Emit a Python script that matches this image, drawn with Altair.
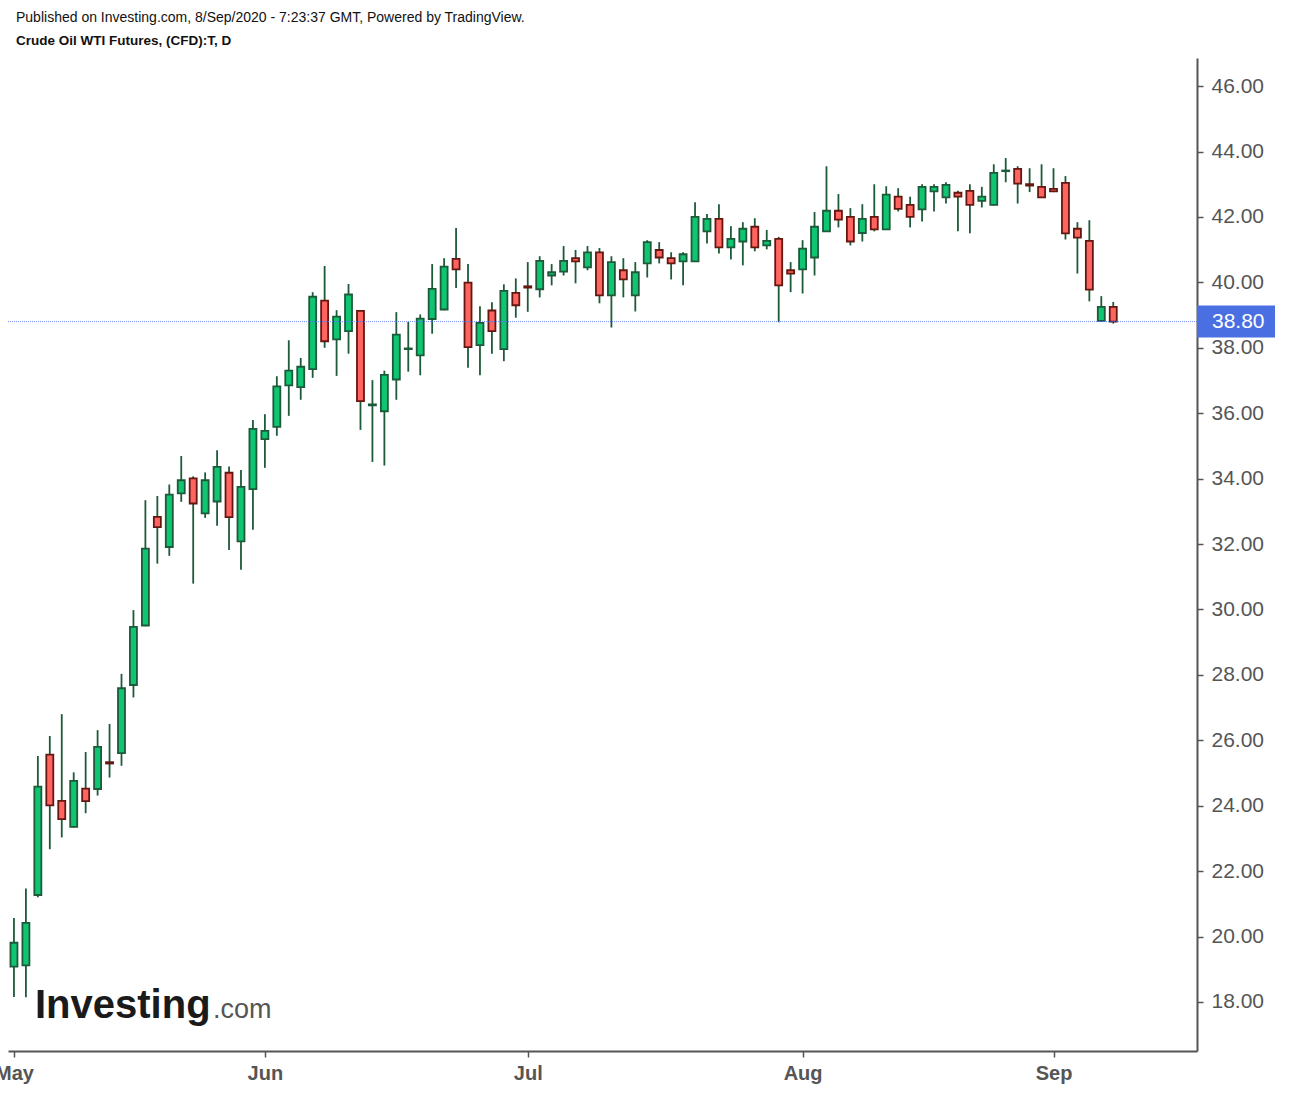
import altair as alt
import pandas as pd

# Daily candles (weekdays), 1 May 2020 .. 8 Sep 2020
opens = [19.08, 19.12, 21.27, 25.56, 24.15, 23.35, 24.52, 24.51, 25.33, 25.61,
         27.69, 29.51, 32.83, 31.91, 33.55, 34.01, 32.94, 33.30, 34.18, 32.08,
         33.68, 35.21, 35.58, 36.85, 36.80, 37.35, 39.44, 38.26, 38.51, 39.13,
         36.24, 36.06, 37.03, 37.96, 37.77, 38.88, 39.17, 40.72, 39.99, 38.08,
         39.14, 37.96, 39.68, 39.88, 39.79, 40.21, 40.33, 40.74, 40.46, 40.92,
         39.60, 40.37, 39.60, 40.58, 40.99, 40.74, 40.64, 40.64, 41.56, 41.94,
         41.07, 41.25, 41.70, 41.13, 41.33, 40.37, 40.40, 40.76, 41.56, 42.19,
         42.00, 41.51, 42.00, 41.62, 42.62, 42.37, 42.23, 42.78, 42.60, 42.74,
         42.80, 42.49, 42.37, 43.40, 43.47, 43.00, 42.92, 42.86, 43.04, 41.64,
         41.27, 38.82, 39.25]
highs = [20.57, 21.47, 25.52, 26.13, 26.80, 25.02, 25.64, 26.31, 26.50, 28.03,
         29.98, 33.34, 33.47, 33.82, 34.69, 34.07, 34.19, 34.87, 34.37, 34.26,
         35.79, 35.97, 37.13, 38.23, 37.69, 39.70, 40.50, 39.15, 39.95, 39.15,
         37.01, 37.30, 39.09, 38.79, 39.02, 40.56, 40.74, 41.66, 40.56, 39.27,
         39.39, 39.94, 40.12, 40.62, 40.80, 40.56, 41.11, 40.99, 41.11, 41.05,
         40.80, 40.74, 40.62, 41.29, 41.23, 40.92, 40.92, 42.45, 42.09, 42.39,
         41.72, 41.84, 41.96, 41.60, 41.39, 40.62, 41.29, 42.15, 43.55, 42.70,
         42.27, 42.39, 43.00, 42.94, 42.88, 42.62, 43.00, 43.00, 43.06, 42.80,
         43.00, 42.92, 43.61, 43.80, 43.55, 43.49, 43.61, 43.49, 43.25, 41.84,
         41.90, 39.58, 39.40]
lows = [18.15, 18.14, 21.20, 22.67, 23.03, 23.33, 23.77, 24.31, 24.86, 25.22,
        27.31, 29.49, 31.40, 31.64, 33.29, 30.79, 32.80, 32.56, 31.82, 31.21,
        32.44, 34.33, 35.31, 35.92, 36.41, 37.08, 38.00, 37.14, 37.82, 35.49,
        34.51, 34.40, 36.41, 37.27, 37.16, 38.43, 39.15, 39.83, 37.39, 37.16,
        37.82, 37.59, 38.92, 39.10, 39.54, 39.91, 40.21, 39.97, 40.37, 39.36,
        38.62, 39.54, 39.11, 40.15, 40.58, 40.09, 39.91, 40.62, 41.19, 40.88,
        40.70, 40.52, 40.95, 41.01, 38.78, 39.70, 39.66, 40.21, 41.54, 41.68,
        41.13, 41.25, 41.56, 41.60, 42.17, 41.68, 41.86, 42.17, 42.41, 41.56,
        41.50, 42.29, 42.35, 43.06, 42.41, 42.76, 42.58, 42.76, 41.31, 40.27,
        39.42, 38.80, 38.74]
closes = [19.81, 20.42, 24.58, 24.01, 23.59, 24.76, 24.14, 25.80, 25.29, 27.59,
          29.47, 31.86, 32.52, 33.51, 33.95, 33.24, 33.95, 34.36, 32.82, 33.75,
          35.52, 35.46, 36.82, 37.30, 37.42, 39.56, 38.20, 38.95, 39.63, 36.37,
          36.27, 37.17, 38.40, 37.98, 38.89, 39.80, 40.48, 40.40, 38.02, 38.76,
          38.51, 39.74, 39.30, 39.84, 40.66, 40.31, 40.66, 40.64, 40.92, 39.60,
          40.62, 40.09, 40.31, 41.23, 40.76, 40.58, 40.86, 42.00, 41.94, 41.07,
          41.33, 41.64, 41.07, 41.27, 39.91, 40.27, 41.03, 41.70, 42.19, 41.92,
          41.25, 41.94, 41.62, 42.68, 42.25, 42.00, 42.92, 42.92, 42.98, 42.62,
          42.37, 42.62, 43.35, 43.42, 43.02, 42.96, 42.60, 42.78, 41.50, 41.37,
          39.78, 39.25, 38.80]

month_tick_idx = [0, 21, 43, 66, 87]
month_labels = ["May", "Jun", "Jul", "Aug", "Sep"]
y_ticks = list(range(18, 47, 2))
last_price = 38.80

header_line1 = "Published on Investing.com, 8/Sep/2020 - 7:23:37 GMT, Powered by TradingView."
header_line2 = "Crude Oil WTI Futures, (CFD):T, D"

df = pd.DataFrame({
    "idx": list(range(len(opens))),
    "open": opens, "high": highs, "low": lows, "close": closes,
})

FONT = "Liberation Sans"
GREEN_FILL = "#10C571"
GREEN_EDGE = "#1D5A3A"
RED_FILL = "#FF6461"
RED_EDGE = "#64170F"
BLUE = "#4A6FE3"
AXIS_GREY = "#555555"

x_scale = alt.Scale(domain=[-0.08, 98.59], nice=False, zero=False)
y_scale = alt.Scale(domain=[16.50, 46.86], nice=False, zero=False)

label_expr = " : ".join(
    [f"datum.value == {i} ? '{l}'" for i, l in zip(month_tick_idx, month_labels)]
) + " : ''"

x_axis = alt.Axis(values=month_tick_idx, labelExpr=label_expr, title=None, grid=False,
                  labelFont=FONT, labelFontSize=20, labelFontWeight="bold",
                  labelColor=AXIS_GREY, tickColor=AXIS_GREY, tickSize=6, tickWidth=1.5,
                  domainColor=AXIS_GREY, domainWidth=2, labelPadding=6,
                  labelFlush=False, labelOverlap=False, labelBound=False)
y_axis = alt.Axis(orient="right", values=y_ticks, format=".2f", title=None, grid=False,
                  labelFont=FONT, labelFontSize=21, labelColor=AXIS_GREY,
                  tickColor=AXIS_GREY, tickSize=6, tickWidth=1.5,
                  domainColor=AXIS_GREY, domainWidth=2, labelPadding=8)

base = alt.Chart(df)

wicks = base.mark_rule(color=GREEN_EDGE, strokeWidth=1.8, clip=True).encode(
    x=alt.X("idx:Q", scale=x_scale, axis=x_axis),
    y=alt.Y("low:Q", scale=y_scale, axis=y_axis),
    y2="high:Q",
)

up = alt.datum.close >= alt.datum.open
bodies = base.mark_bar(size=7, strokeWidth=1.8, clip=True).encode(
    x=alt.X("idx:Q", scale=x_scale, axis=x_axis),
    y=alt.Y("open:Q", scale=y_scale, axis=y_axis),
    y2="close:Q",
    fill=alt.condition(up, alt.value(GREEN_FILL), alt.value(RED_FILL)),
    stroke=alt.condition(up, alt.value(GREEN_EDGE), alt.value(RED_EDGE)),
)

one = pd.DataFrame({"a": [0]})

price_line = alt.Chart(one).mark_rule(color=BLUE, strokeWidth=1, strokeDash=[1, 1],
                                      opacity=0.8).encode(
    y=alt.Y(datum=last_price, scale=y_scale, axis=y_axis),
)

price_box = alt.Chart(one).mark_rule(color=BLUE, strokeWidth=32, strokeCap="butt").encode(
    x=alt.value(1189), x2=alt.value(1267),
    y=alt.Y(datum=last_price, scale=y_scale, axis=y_axis),
)

price_text = alt.Chart(one).mark_text(text=f"{last_price:.2f}", color="white", font=FONT,
                                      fontSize=21, align="left", baseline="middle").encode(
    x=alt.value(1204),
    y=alt.Y(datum=last_price, scale=y_scale, axis=y_axis),
)

head1 = alt.Chart(one).mark_text(text=header_line1, font=FONT, fontSize=14, color="#111111",
                                 align="left", baseline="alphabetic").encode(
    x=alt.value(8), y=alt.value(-36))
head2 = alt.Chart(one).mark_text(text=header_line2, font=FONT, fontSize=13.5, fontWeight="bold",
                                 color="#111111", align="left", baseline="alphabetic").encode(
    x=alt.value(8), y=alt.value(-13))

logo1 = alt.Chart(one).mark_text(text="Investing", font=FONT, fontSize=40, fontWeight="bold",
                                 color="#1a1a1a", align="left", baseline="alphabetic").encode(
    x=alt.value(27), y=alt.value(960))
logo2 = alt.Chart(one).mark_text(text=".com", font=FONT, fontSize=27, color="#555555",
                                 align="left", baseline="alphabetic").encode(
    x=alt.value(205), y=alt.value(960))

chart = alt.layer(
    wicks, bodies, price_line, price_box, price_text, head1, head2, logo1, logo2
).properties(
    width=1189, height=993,
    padding={"left": 8, "top": 58, "right": 93, "bottom": 43},
    autosize=alt.AutoSizeParams(type="none"),
    background="white",
).configure_view(stroke=None)

chart.save("out.html", embed_options={"renderer": "svg", "actions": False})
